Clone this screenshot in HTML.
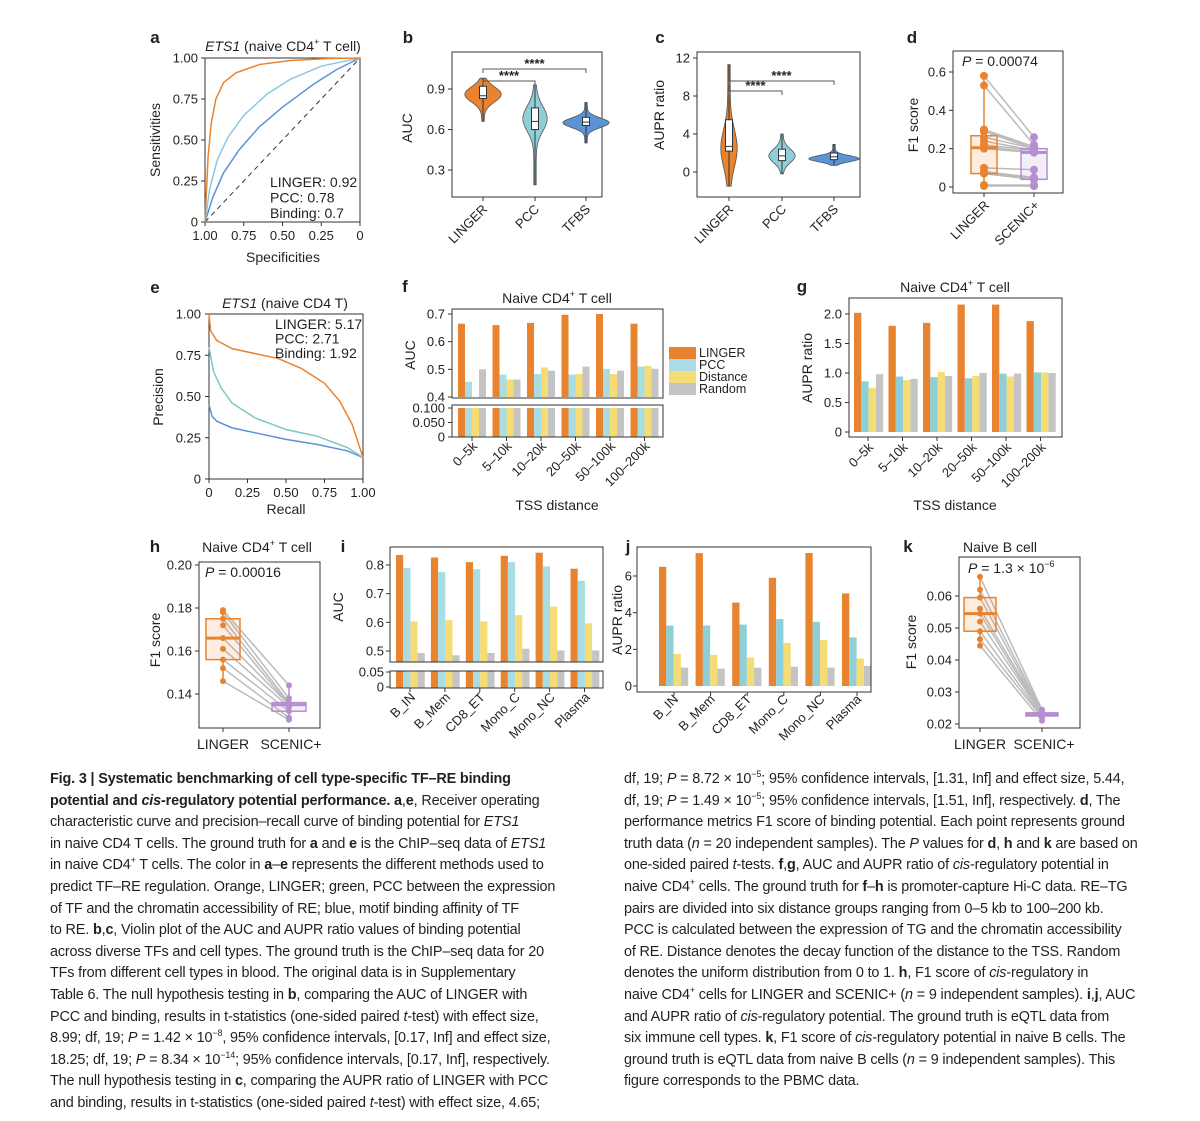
<!DOCTYPE html>
<html><head><meta charset="utf-8">
<style>
body{margin:0;background:#fff;width:1200px;height:1121px;overflow:hidden;position:relative;font-family:"Liberation Sans",sans-serif;color:#231f20}
svg{position:absolute;left:0;top:0}
svg text{font-family:"Liberation Sans",sans-serif;fill:#231f20}
.cap{position:absolute;font-size:14.4px;line-height:21.6px;white-space:nowrap;letter-spacing:-0.15px}
.cap div{height:21.6px;overflow:visible}
.cap sup{font-size:9px;line-height:0;vertical-align:0;position:relative;top:-6px}
</style></head><body>
<svg id="fig" width="1200" height="770" viewBox="0 0 1200 770"></svg>
<div class="cap" style="left:50px;top:769px">
<div><b>Fig. 3 | Systematic benchmarking of cell type-specific TF–RE binding</b></div>
<div><b>potential and <i>cis</i>-regulatory potential performance. a</b>,<b>e</b>, Receiver operating</div>
<div>characteristic curve and precision–recall curve of binding potential for <i>ETS1</i></div>
<div>in naive CD4 T cells. The ground truth for <b>a</b> and <b>e</b> is the ChIP–seq data of <i>ETS1</i></div>
<div>in naive CD4<sup>+</sup> T cells. The color in <b>a</b>–<b>e</b> represents the different methods used to</div>
<div>predict TF–RE regulation. Orange, LINGER; green, PCC between the expression</div>
<div>of TF and the chromatin accessibility of RE; blue, motif binding affinity of TF</div>
<div>to RE. <b>b</b>,<b>c</b>, Violin plot of the AUC and AUPR ratio values of binding potential</div>
<div>across diverse TFs and cell types. The ground truth is the ChIP–seq data for 20</div>
<div>TFs from different cell types in blood. The original data is in Supplementary</div>
<div>Table 6. The null hypothesis testing in <b>b</b>, comparing the AUC of LINGER with</div>
<div>PCC and binding, results in t-statistics (one-sided paired <i>t</i>-test) with effect size,</div>
<div>8.99; df, 19; <i>P</i> = 1.42 × 10<sup>−8</sup>, 95% confidence intervals, [0.17, Inf] and effect size,</div>
<div>18.25; df, 19; <i>P</i> = 8.34 × 10<sup>−14</sup>; 95% confidence intervals, [0.17, Inf], respectively.</div>
<div>The null hypothesis testing in <b>c</b>, comparing the AUPR ratio of LINGER with PCC</div>
<div>and binding, results in t-statistics (one-sided paired <i>t</i>-test) with effect size, 4.65;</div>
</div>
<div class="cap" style="left:624px;top:769px">
<div>df, 19; <i>P</i> = 8.72 × 10<sup>−5</sup>; 95% confidence intervals, [1.31, Inf] and effect size, 5.44,</div>
<div>df, 19; <i>P</i> = 1.49 × 10<sup>−5</sup>; 95% confidence intervals, [1.51, Inf], respectively. <b>d</b>, The</div>
<div>performance metrics F1 score of binding potential. Each point represents ground</div>
<div>truth data (<i>n</i> = 20 independent samples). The <i>P</i> values for <b>d</b>, <b>h</b> and <b>k</b> are based on</div>
<div>one-sided paired <i>t</i>-tests. <b>f</b>,<b>g</b>, AUC and AUPR ratio of <i>cis</i>-regulatory potential in</div>
<div>naive CD4<sup>+</sup> cells. The ground truth for <b>f</b>–<b>h</b> is promoter-capture Hi-C data. RE–TG</div>
<div>pairs are divided into six distance groups ranging from 0–5 kb to 100–200 kb.</div>
<div>PCC is calculated between the expression of TG and the chromatin accessibility</div>
<div>of RE. Distance denotes the decay function of the distance to the TSS. Random</div>
<div>denotes the uniform distribution from 0 to 1. <b>h</b>, F1 score of <i>cis</i>-regulatory in</div>
<div>naive CD4<sup>+</sup> cells for LINGER and SCENIC+ (<i>n</i> = 9 independent samples). <b>i</b>,<b>j</b>, AUC</div>
<div>and AUPR ratio of <i>cis</i>-regulatory potential. The ground truth is eQTL data from</div>
<div>six immune cell types. <b>k</b>, F1 score of <i>cis</i>-regulatory potential in naive B cells. The</div>
<div>ground truth is eQTL data from naive B cells (<i>n</i> = 9 independent samples). This</div>
<div>figure corresponds to the PBMC data.</div>
</div>
<script>
// ---------- data ----------
const rocLinger = [[1,0],[0.98,0.4],[0.96,0.6],[0.93,0.75],[0.88,0.85],[0.8,0.91],[0.65,0.96],[0.45,0.985],[0.2,0.997],[0,1]];
const rocPcc = [[1,0],[0.97,0.2],[0.92,0.38],[0.85,0.52],[0.75,0.65],[0.6,0.78],[0.45,0.87],[0.25,0.95],[0,1]];
const rocBinding = [[1,0],[0.95,0.15],[0.88,0.3],[0.78,0.44],[0.65,0.58],[0.5,0.7],[0.3,0.84],[0.15,0.93],[0,1]];
const prLinger = [[0,1],[0.01,0.9],[0.05,0.84],[0.15,0.79],[0.3,0.76],[0.45,0.73],[0.6,0.67],[0.75,0.58],[0.85,0.47],[0.93,0.33],[1,0.13]];
const prPcc = [[0,0.8],[0.03,0.65],[0.08,0.55],[0.15,0.46],[0.3,0.37],[0.5,0.3],[0.7,0.26],[0.9,0.19],[1,0.13]];
const prBinding = [[0,0.45],[0.02,0.38],[0.05,0.35],[0.15,0.31],[0.3,0.28],[0.5,0.24],[0.7,0.21],[0.9,0.17],[1,0.13]];
const violinMethods = ['LINGER','PCC','TFBS'];
const aucStats = [[0.66,0.83,0.85,0.92,0.98],[0.19,0.6,0.66,0.76,0.93],[0.5,0.63,0.655,0.69,0.8]];
const auprStats = [[-1.5,2.2,2.7,5.5,11.3],[-0.2,1.2,1.7,2.4,4],[0.7,1.3,1.6,2.0,2.9]];
const f1dLinger = [0.58,0.53,0.3,0.29,0.29,0.26,0.24,0.22,0.21,0.21,0.2,0.1,0.08,0.08,0.07,0.07,0.01,0.01,0.01,0.005];
const f1dScenic = [0.26,0.22,0.21,0.21,0.2,0.2,0.19,0.19,0.18,0.18,0.18,0.09,0.05,0.04,0.04,0.04,0.01,0.01,0.005,0.005];
const tssGroups = ['0–5k','5–10k','10–20k','20–50k','50–100k','100–200k'];
const fLinger = [0.665,0.66,0.668,0.697,0.7,0.665];
const fPcc = [0.455,0.481,0.483,0.481,0.502,0.51];
const fDistance = [0.397,0.463,0.507,0.483,0.483,0.513];
const fRandom = [0.5,0.463,0.495,0.51,0.495,0.502];
const gLinger = [2.02,1.8,1.85,2.16,2.16,1.88];
const gPcc = [0.86,0.94,0.93,0.91,0.99,1.01];
const gDistance = [0.75,0.88,1.02,0.95,0.94,1.01];
const gRandom = [0.98,0.9,0.95,1.0,0.99,1.0];
const hLinger = [0.179,0.178,0.175,0.172,0.166,0.161,0.156,0.152,0.146];
const hScenic = [0.144,0.138,0.136,0.135,0.135,0.134,0.132,0.129,0.128];
const cellTypes = ['B_IN','B_Mem','CD8_ET','Mono_C','Mono_NC','Plasma'];
const iLinger = [0.835,0.826,0.81,0.832,0.843,0.787];
const iPcc = [0.79,0.775,0.785,0.81,0.795,0.745];
const iDistance = [0.603,0.608,0.603,0.625,0.655,0.597];
const iRandom = [0.493,0.485,0.493,0.508,0.502,0.502];
const jLinger = [6.5,7.25,4.55,5.9,7.25,5.05];
const jPcc = [3.3,3.3,3.35,3.65,3.5,2.65];
const jDistance = [1.75,1.7,1.55,2.35,2.5,1.5];
const jRandom = [1.0,0.95,1.0,1.05,1.0,1.1];
const kLinger = [0.066,0.062,0.0595,0.056,0.0545,0.052,0.049,0.0465,0.0445];
const kScenic = [0.0245,0.024,0.0235,0.0235,0.023,0.023,0.0225,0.022,0.021];

// ---------- helpers ----------
const NS='http://www.w3.org/2000/svg';
const svg=document.getElementById('fig');
const C={o:'#e8832f',p:'#a9dde3',pl:'#8fd0d8',t:'#7ec8c8',d:'#f5dc74',r:'#c4c4c4',b:'#5b93d6',lb:'#8fc7e2',pu:'#b58fd0'};
function mk(tag,attrs,parent){const e=document.createElementNS(NS,tag);for(const k in attrs)e.setAttribute(k,attrs[k]);(parent||svg).appendChild(e);return e;}
function lin(d0,d1,r0,r1){return v=>r0+(v-d0)*(r1-r0)/(d1-d0);}
function txt(x,y,s,size,anchor,parent,extra){const t=mk('text',Object.assign({x:x,y:y,'font-size':size,'text-anchor':anchor||'middle'},extra||{}),parent);t.textContent=s;return t;}
function grp(name){const g=mk('g',{});return g;}
function letter(g,x,y,s){const t=txt(x,y,s,17,'middle',g,{'font-weight':'bold'});}
function frame(g,x,y,w,h){const r=mk('rect',{x:x,y:y,width:w,height:h,fill:'none',stroke:'#333'},g);}
function yAxis(g,x,y,ticks,labels,off){off=off||7;
 ticks.forEach((t,i)=>{mk('line',{x1:x-4,x2:x,y1:y(t),y2:y(t),stroke:'#333'},g);const l=txt(x-off,y(t)+4.5,labels[i],13,'end',g);});}
function ytitle(g,x,y,s){const t=txt(x,y,s,14,'middle',g,{transform:`rotate(-90 ${x} ${y})`});return t;}
function xrot(g,x,y,s){const t=txt(x,y,s,13,'end',g,{transform:`rotate(-45 ${x} ${y})`});}
function xtick(g,x,y){mk('line',{x1:x,x2:x,y1:y,y2:y+4,stroke:'#333'},g);}
function poly(g,pts,X,Y,col,name,w){const p=mk('polyline',{points:pts.map(q=>X(q[0])+','+Y(q[1])).join(' '),fill:'none',stroke:col,'stroke-width':w||1.5},g);}
function cd4title(g,x,y){const t=mk('text',{x:x,y:y,'font-size':14,'text-anchor':'middle'},g);t.innerHTML='Naive CD4<tspan font-size="9" dy="-6">+</tspan><tspan dy="6"> T cell</tspan>';}

// ---------- panel a ----------
(function(){const g=grp('panel-a-roc');letter(g,155,43,'a');
 const X=lin(1,0,205,360),Y=lin(0,1,222,58);
 frame(g,205,58,155,164);
 const lb=['1.00','0.75','0.50','0.25','0'];
 [1,0.75,0.5,0.25,0].forEach((t,i)=>{mk('line',{x1:201,x2:205,y1:Y(t),y2:Y(t),stroke:'#333'},g);const l=txt(198,Y(t)+4.5,lb[i],13,'end',g);
  mk('line',{x1:X(t),x2:X(t),y1:222,y2:226,stroke:'#333'},g);const m=txt(X(t),240,lb[i],13,'middle',g);});
 const dg=mk('line',{x1:X(1),y1:Y(0),x2:X(0),y2:Y(1),stroke:'#333','stroke-dasharray':'5,4'},g);
 poly(g,rocBinding,X,Y,C.b,'roc-binding-line');poly(g,rocPcc,X,Y,C.lb,'roc-pcc-line');poly(g,rocLinger,X,Y,C.o,'roc-linger-line');
 const t=mk('text',{x:283,y:51,'font-size':14,'text-anchor':'middle'},g);t.innerHTML='<tspan font-style="italic">ETS1</tspan> (naive CD4<tspan font-size="9" dy="-6">+</tspan><tspan dy="6"> T cell)</tspan>';
 ytitle(g,160,140,'Sensitivities');const xt=txt(283,262,'Specificities',14,'middle',g);
 ['LINGER: 0.92','PCC: 0.78','Binding: 0.7'].forEach((s,i)=>{const l=txt(270,187+i*15.5,s,14,'start',g);});
})();

// ---------- violin helper ----------
function violin(g,cx,Y,st,col,name,wmax,mode,spread){const [mn,q1,md,q3,mx]=st;const n=40,pts=[];
 for(let i=0;i<=n;i++){const v=mn+(mx-mn)*i/n;const z=(v-mode)/spread;const w=wmax*Math.exp(-z*z)+1.2;pts.push([v,w]);}
 const d='M'+pts.map(p=>(cx-p[1])+','+Y(p[0])).join(' L')+' L'+pts.slice().reverse().map(p=>(cx+p[1])+','+Y(p[0])).join(' L')+'Z';
 const v=mk('path',{d:d,fill:col,stroke:'#555','stroke-width':0.8},g);
 mk('line',{x1:cx,x2:cx,y1:Y(mn),y2:Y(mx),stroke:'#333'},g);
 const b=mk('rect',{x:cx-3.5,y:Y(q3),width:7,height:Y(q1)-Y(q3),fill:'#fff',stroke:'#333'},g);
 mk('line',{x1:cx-3.5,x2:cx+3.5,y1:Y(md),y2:Y(md),stroke:'#333'},g);}
function bracket(g,x1,x2,y,name){const p=mk('path',{d:`M${x1},${y+4} V${y} H${x2} V${y+4}`,fill:'none',stroke:'#555'},g);const t=txt((x1+x2)/2,y-1,'****',13,'middle',g,{'font-weight':'bold'});}

// ---------- panel b ----------
(function(){const g=grp('panel-b-auc-violin');letter(g,408,43,'b');
 frame(g,452,52,150,145);
 const Y=lin(0.3,0.9,170,89);yAxis(g,452,Y,[0.3,0.6,0.9],['0.3','0.6','0.9']);
 const xs=[483,535,586];const cols=[C.o,C.pl,C.b];const wm=[17,11,22],mo=[0.86,0.68,0.65],sp=[0.08,0.13,0.05];
 violinMethods.forEach((m,i)=>{violin(g,xs[i],Y,aucStats[i],cols[i],'auc-'+m.toLowerCase(),wm[i],mo[i],sp[i]);xtick(g,xs[i],197);xrot(g,xs[i]+5,210,m);});
 bracket(g,483,586,69,'sig-linger-tfbs');bracket(g,483,535,81,'sig-linger-pcc');ytitle(g,412,128,'AUC');})();

// ---------- panel c ----------
(function(){const g=grp('panel-c-aupr-violin');letter(g,660,43,'c');
 frame(g,697,52,163,145);
 const Y=lin(0,12,172,58);yAxis(g,697,Y,[0,4,8,12],['0','4','8','12']);
 const xs=[729,782,834];const cols=[C.o,C.pl,C.b];const wm=[7,12,24],mo=[2.5,1.7,1.4],sp=[2.8,1.0,0.45];
 violinMethods.forEach((m,i)=>{violin(g,xs[i],Y,auprStats[i],cols[i],'aupr-'+m.toLowerCase(),wm[i],mo[i],sp[i]);xtick(g,xs[i],197);xrot(g,xs[i]+5,210,m);});
 bracket(g,729,834,81,'sig-linger-tfbs');bracket(g,729,782,91,'sig-linger-pcc');ytitle(g,664,115,'AUPR ratio');})();

// ---------- paired helper ----------
function paired(g,L,S,Y,xl,xs,bw,pname,r){
 L.forEach((v,i)=>{const l=mk('line',{x1:xl,y1:Y(v),x2:xs,y2:Y(S[i]),stroke:'#bbb','stroke-width':1.5},g);});
 [[L,xl,C.o,'linger'],[S,xs,C.pu,'scenic']].forEach(([arr,x,col,n])=>{const s=arr.slice().sort((a,b)=>a-b);const q=p=>{const k=(s.length-1)*p,f=Math.floor(k);return s[f]+(s[Math.min(f+1,s.length-1)]-s[f])*(k-f);};
  const b=mk('rect',{x:x-bw,y:Y(q(0.75)),width:2*bw,height:Y(q(0.25))-Y(q(0.75)),fill:col,'fill-opacity':0.15,stroke:col,'stroke-width':1.5},g);
  mk('line',{x1:x,x2:x,y1:Y(s[0]),y2:Y(q(0.25)),stroke:col,'stroke-width':1.5},g);mk('line',{x1:x,x2:x,y1:Y(q(0.75)),y2:Y(s[s.length-1]),stroke:col,'stroke-width':1.5},g);
  mk('line',{x1:x-bw,x2:x+bw,y1:Y(q(0.5)),y2:Y(q(0.5)),stroke:col,'stroke-width':3},g);
  arr.forEach(v=>{const c=mk('circle',{cx:x,cy:Y(v),r:r||3.5,fill:col},g);});});}

// ---------- panel d ----------
(function(){const g=grp('panel-d-f1');letter(g,912,43,'d');
 frame(g,953,51,110,142);
 const Y=lin(0,0.6,187,72);yAxis(g,953,Y,[0,0.2,0.4,0.6],['0','0.2','0.4','0.6']);
 paired(g,f1dLinger,f1dScenic,Y,984,1034,13,'d',4);
 xtick(g,984,193);xtick(g,1034,193);
 const p=mk('text',{x:962,y:66,'font-size':14},g);p.innerHTML='<tspan font-style="italic">P</tspan> = 0.00074';
 xrot(g,990,206,'LINGER');xrot(g,1040,206,'SCENIC+');ytitle(g,918,125,'F1 score');})();

// ---------- panel e ----------
(function(){const g=grp('panel-e-pr');letter(g,155,293,'e');
 const X=lin(0,1,209,363),Y=lin(0,1,479,314);
 frame(g,209,314,154,165);
 const yl=['0','0.25','0.50','0.75','1.00'];
 [0,0.25,0.5,0.75,1].forEach((t,i)=>{mk('line',{x1:205,x2:209,y1:Y(t),y2:Y(t),stroke:'#333'},g);const l=txt(201,Y(t)+4.5,yl[i],13,'end',g);
  mk('line',{x1:X(t),x2:X(t),y1:479,y2:483,stroke:'#333'},g);const m=txt(X(t),497,yl[i],13,'middle',g);});
 poly(g,prBinding,X,Y,C.b,'pr-binding-line');poly(g,prPcc,X,Y,C.t,'pr-pcc-line');poly(g,prLinger,X,Y,C.o,'pr-linger-line');
 const t=mk('text',{x:285,y:308,'font-size':14,'text-anchor':'middle'},g);t.innerHTML='<tspan font-style="italic">ETS1</tspan> (naive CD4 T)';
 ytitle(g,163,397,'Precision');const xt=txt(286,514,'Recall',14,'middle',g);
 ['LINGER: 5.17','PCC: 2.71','Binding: 1.92'].forEach((s,i)=>{const l=txt(275,329+i*14.5,s,14,'start',g);});})();

// ---------- grouped bars helper ----------
function bars(g,series,cols,names,x0,pitch,bw,Y,base,clip,pname){series.forEach((arr,s)=>arr.forEach((v,i)=>{const x=x0+i*pitch+s*bw;const top=Y(v);
 const r=mk('rect',{x:x,y:top,width:bw,height:Math.max(0,base-top),fill:cols[s]},g);
 if(clip){const r2=mk('rect',{x:x,y:clip[0],width:bw,height:clip[1]-clip[0],fill:cols[s]},g);}}));}
const names4=['linger','pcc','distance','random'];

// ---------- panel f ----------
(function(){const g=grp('panel-f-auc-tss');letter(g,405,292,'f');
 const Y=lin(0.4,0.7,397,314);const Yb=lin(0,0.1,437,408);
 bars(g,[fLinger,fPcc,fDistance,fRandom],[C.o,C.p,C.d,C.r],names4,458,34.5,7,Y,397,[408,437],'f');
 frame(g,452,309,211,89);frame(g,452,405,211,32);
 yAxis(g,452,Y,[0.4,0.5,0.6,0.7],['0.4','0.5','0.6','0.7']);
 [[0,'0'],[0.05,'0.050'],[0.1,'0.100']].forEach(([t,s])=>{mk('line',{x1:448,x2:452,y1:Yb(t),y2:Yb(t),stroke:'#333'},g);const l=txt(445,Yb(t)+4.5,s,13,'end',g);});
 tssGroups.forEach((s,i)=>{xtick(g,458+i*34.5+14,437);xrot(g,458+i*34.5+20,447,s);});
 cd4title(g,557,303);
 ytitle(g,415,355,'AUC');const xt=txt(557,510,'TSS distance',14,'middle',g);
 ['LINGER','PCC','Distance','Random'].forEach((s,i)=>{const r=mk('rect',{x:669,y:347+i*12,width:27,height:12,fill:[C.o,C.p,C.d,C.r][i]},g);const l=txt(699,357+i*12,s,12.5,'start',g);});})();

// ---------- panel g ----------
(function(){const g=grp('panel-g-aupr-tss');letter(g,802,292,'g');
 const Y=lin(0,2,432,314);
 bars(g,[gLinger,gPcc,gDistance,gRandom],[C.o,C.pl,C.d,C.r],names4,854,34.5,7.3,Y,432,null,'g');
 frame(g,849,298,213,139);
 yAxis(g,849,Y,[0,0.5,1,1.5,2],['0','0.5','1.0','1.5','2.0']);
 tssGroups.forEach((s,i)=>{xtick(g,854+i*34.5+14,437);xrot(g,854+i*34.5+20,448,s);});
 cd4title(g,955,292);
 ytitle(g,812,368,'AUPR ratio');const xt=txt(955,510,'TSS distance',14,'middle',g);})();

// ---------- panel h ----------
(function(){const g=grp('panel-h-f1');letter(g,155,552,'h');
 frame(g,199,562,121,166);
 const Y=lin(0.14,0.2,694,565);yAxis(g,199,Y,[0.14,0.16,0.18,0.2],['0.14','0.16','0.18','0.20']);
 paired(g,hLinger,hScenic,Y,223,289,17,'h',3);
 xtick(g,223,728);xtick(g,289,728);
 const p=mk('text',{x:205,y:577,'font-size':14},g);p.innerHTML='<tspan font-style="italic">P</tspan> = 0.00016';
 const a=txt(223,749,'LINGER',14,'middle',g);
 const b=txt(291,749,'SCENIC+',14,'middle',g);
 cd4title(g,257,552);
 ytitle(g,160,640,'F1 score');})();

// ---------- panel i ----------
(function(){const g=grp('panel-i-auc-celltype');letter(g,343,552,'i');
 const Y=lin(0.5,0.8,651,565);const Yb=lin(0,0.05,687,672);
 bars(g,[iLinger,iPcc,iDistance,iRandom],[C.o,C.p,C.d,C.r],names4,396,34.9,7.2,Y,662,[671,688],'i');
 frame(g,390,547,213,115);frame(g,390,671,213,17);
 yAxis(g,390,Y,[0.5,0.6,0.7,0.8],['0.5','0.6','0.7','0.8'],6);
 [[0,'0'],[0.05,'0.05']].forEach(([t,s])=>{mk('line',{x1:386,x2:390,y1:Yb(t),y2:Yb(t),stroke:'#333'},g);const l=txt(384,Yb(t)+4.5,s,13,'end',g);});
 cellTypes.forEach((s,i)=>{xtick(g,396+i*34.9+14,688);xrot(g,396+i*34.9+20,698,s);});ytitle(g,343,607,'AUC');})();

// ---------- panel j ----------
(function(){const g=grp('panel-j-aupr-celltype');letter(g,628,552,'j');
 const Y=lin(0,6,686,576);
 bars(g,[jLinger,jPcc,jDistance,jRandom],[C.o,C.pl,C.d,C.r],names4,659,36.6,7.3,Y,686,null,'j');
 frame(g,637,547,234,145);
 yAxis(g,637,Y,[0,2,4,6],['0','2','4','6'],5);
 cellTypes.forEach((s,i)=>{xtick(g,659+i*36.6+15,692);xrot(g,659+i*36.6+20,700,s);});ytitle(g,622,620,'AUPR ratio');})();

// ---------- panel k ----------
(function(){const g=grp('panel-k-f1');letter(g,908,552,'k');
 frame(g,959,557,121,171);
 const Y=lin(0.02,0.06,724,596);yAxis(g,959,Y,[0.02,0.03,0.04,0.05,0.06],['0.02','0.03','0.04','0.05','0.06']);
 paired(g,kLinger,kScenic,Y,980,1042,16,'k',3);
 xtick(g,980,728);xtick(g,1042,728);
 const p=mk('text',{x:968,y:573,'font-size':14},g);p.innerHTML='<tspan font-style="italic">P</tspan> = 1.3 × 10<tspan font-size="9" dy="-6">−6</tspan>';
 const a=txt(980,749,'LINGER',14,'middle',g);
 const b=txt(1044,749,'SCENIC+',14,'middle',g);
 const t=txt(1000,552,'Naive B cell',14,'middle',g);
 ytitle(g,916,642,'F1 score');})();
</script>
</body></html>
